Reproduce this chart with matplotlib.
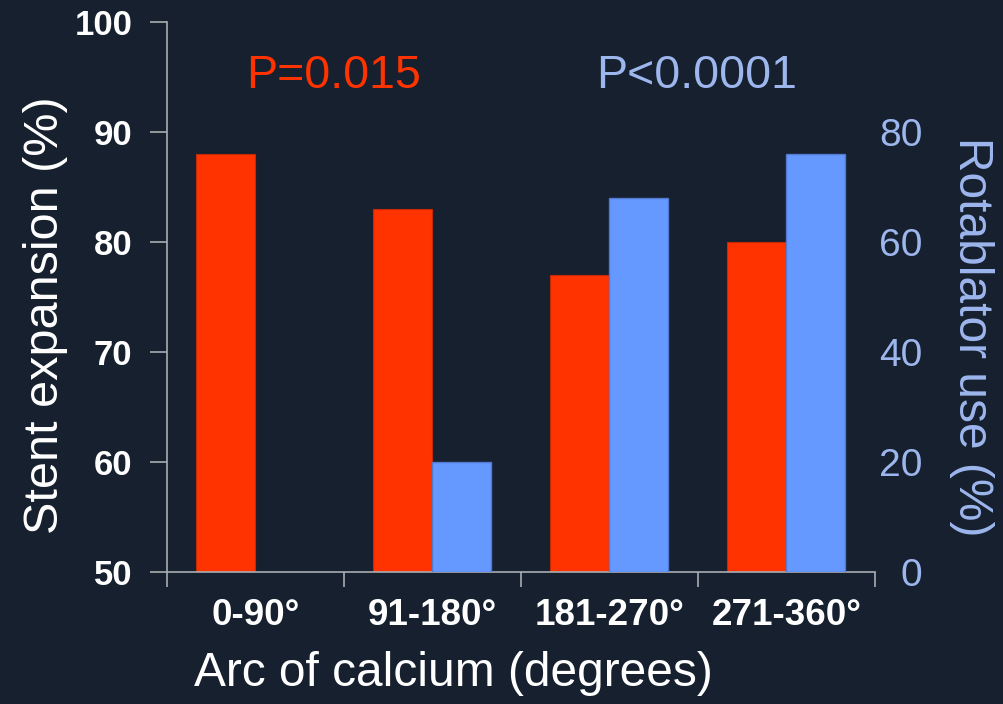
import numpy as np
import matplotlib
matplotlib.use("Agg")
import matplotlib.pyplot as plt

categories = ["0-90°", "91-180°", "181-270°", "271-360°"]
stent_expansion = [88, 83, 77, 80]      # %, left axis
rotablator_use = [0, 20, 68, 76]         # %, right axis
left_ticks = [50, 60, 70, 80, 90, 100]
right_ticks = [0, 20, 40, 60, 80]

BG = "#16202e"
RED = "#ff3300"
BLUE = "#6699ff"
BLUE_TEXT = "#9db6ee"
SPINE = "#a9adb3"

plt.rcParams["font.family"] = ["Liberation Sans", "DejaVu Sans"]

fig = plt.figure(figsize=(10.04, 7.04), dpi=100, facecolor=BG)
ax = fig.add_axes([0.1663, 0.1875, 0.8715 - 0.1663, 0.96875 - 0.1875])
ax.set_facecolor(BG)
ax2 = ax.twinx()

x = np.arange(len(categories))
w = 1 / 3

ax.bar(x - w / 2, np.array(stent_expansion) - 50, width=w, bottom=50,
       color=RED, edgecolor="#c42a08", linewidth=0.8, zorder=2)
mask = np.array(rotablator_use) > 0
ax2.bar(x[mask] + w / 2, np.array(rotablator_use)[mask], width=w,
        color=BLUE, edgecolor="#5278d0", linewidth=1.0, zorder=2)

ax.set_xlim(-0.5, len(categories) - 0.5)
ax.set_ylim(50, 100)
ax2.set_ylim(0, 100)

# left axis
ax.set_yticks(left_ticks)
ax.set_yticklabels([str(v) for v in left_ticks], fontsize=25, fontweight="bold", color="white")
ax.tick_params(axis="y", which="major", length=12, width=1.2, color=SPINE, pad=13)

# category labels at centres, boundary ticks between groups
ax.set_xticks(x)
ax.set_xticklabels(categories, fontsize=26.5, fontweight="bold", color="white")
ax.set_xticks(np.arange(-0.5, len(categories), 1.0), minor=True)
ax.tick_params(axis="x", which="major", length=0, pad=19)
ax.tick_params(axis="x", which="minor", length=11, width=1.2, color=SPINE)

for s in ["top", "right"]:
    ax.spines[s].set_visible(False)
for s in ["left", "bottom"]:
    ax.spines[s].set_color(SPINE)
    ax.spines[s].set_linewidth(1.2)
for s in ax2.spines.values():
    s.set_visible(False)

# right axis
ax2.set_yticks(right_ticks)
ax2.set_yticklabels([str(v) for v in right_ticks], fontsize=28, color=BLUE_TEXT, ha="right")
ax2.tick_params(axis="y", length=0, pad=34)

ax.set_ylabel("Stent expansion (%)", fontsize=35, color="white")
ax.set_xlabel("Arc of calcium (degrees)", fontsize=34.5, color="white")
ax2.set_ylabel("Rotablator use (%)", fontsize=34.5, color=BLUE_TEXT, rotation=-90)

for lab in (ax.yaxis.label, ax2.yaxis.label, ax.xaxis.label):
    lab.set_rotation_mode("default")
    lab.set_ha("center")
    lab.set_va("center")
ax.yaxis.set_label_coords(-0.172, 0.467)
ax2.yaxis.set_label_coords(1.137, 0.427)
ax.xaxis.set_label_coords(0.404, -0.185)

ax.text(0.44, 95.1, "P=0.015", fontsize=33.5, color=RED, ha="center", va="center")
ax.text(2.49, 95.1, "P<0.0001", fontsize=33.5, color=BLUE_TEXT, ha="center", va="center")

fig.savefig("out.png", dpi=100, facecolor=BG)
